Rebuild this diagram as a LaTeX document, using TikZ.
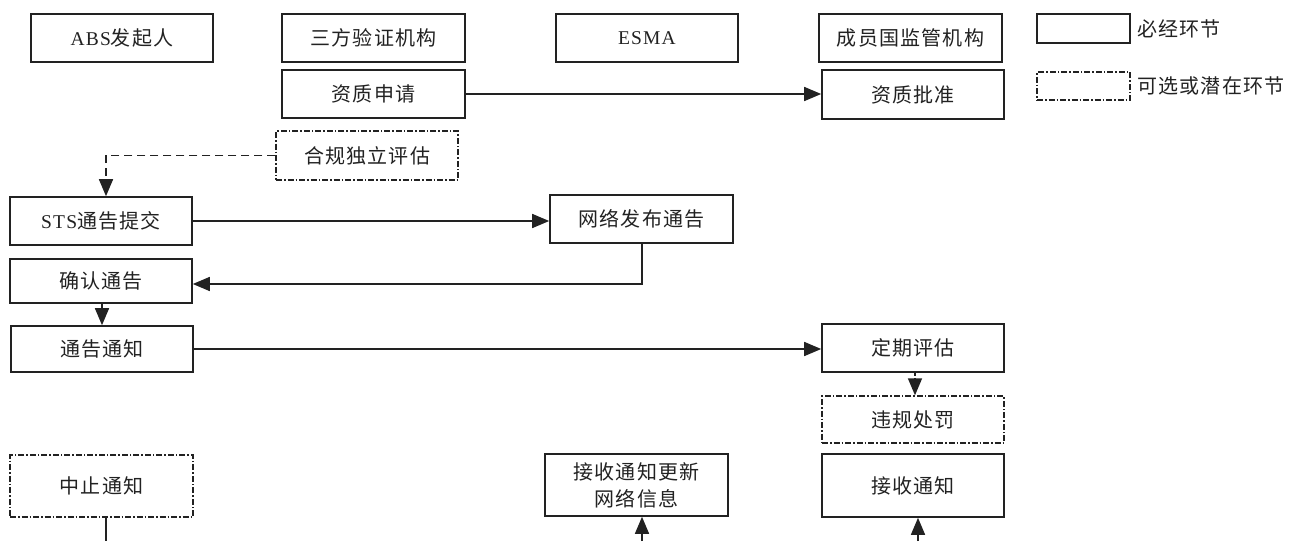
\documentclass[tikz,border=0pt]{standalone}
\usepackage{fontspec}
\setmainfont{Liberation Serif}[LetterSpace=6]
\newfontfamily\cjk{Noto Sans CJK SC}[LetterSpace=6]
\newcommand\lat[1]{{\fontsize{19.5}{22}\selectfont\rmfamily #1}}
\usetikzlibrary{arrows.meta}
\definecolor{ink}{HTML}{222222}
\tikzset{
  box/.style={draw=ink, line width=1.6pt, rectangle, inner sep=0pt, text=ink,
    font=\fontsize{20}{27}\selectfont\cjk, align=center},
  optbox/.style={box, line width=1.4pt, dash pattern=on 6pt off 2pt on 1.5pt off 2pt},
  conn/.style={draw=ink, line width=1.5pt, -{Triangle[length=17pt,width=14pt]}},
  dconn/.style={conn, dash pattern=on 8pt off 5pt},
  lbl/.style={anchor=west, inner sep=0pt, text=ink, font=\fontsize{20}{22}\selectfont\cjk},
}
\begin{document}
\begin{tikzpicture}[x=1pt, y=-1pt]
\fill[white] (0,0) rectangle (1293,541);
\useasboundingbox (0,0) rectangle (1293,541);
% header row
\node[box, minimum width=182pt, minimum height=48pt] (abs) at (122,38) {\lat{ABS}发起人};
\node[box, minimum width=183pt, minimum height=48pt] (tpv) at (373.5,38) {三方验证机构};
\node[box, minimum width=182pt, minimum height=48pt] (esma) at (647,38) {\lat{ESMA}};
\node[box, minimum width=183pt, minimum height=48pt] (nca) at (910.5,38) {成员国监管机构};
% legend
\node[box, minimum width=93pt, minimum height=29pt] (leg1) at (1083.5,28.5) {};
\node[optbox, minimum width=93pt, minimum height=28pt] (leg2) at (1083.5,86) {};
\node[lbl] (leg1t) at (1137,28.5) {必经环节};
\node[lbl] (leg2t) at (1137,86) {可选或潜在环节};
% process
\node[box, minimum width=183pt, minimum height=48pt] (apply) at (373.5,94) {资质申请};
\node[box, minimum width=182pt, minimum height=49pt] (approve) at (913,94.5) {资质批准};
\node[optbox, minimum width=182pt, minimum height=49pt] (indep) at (367,155.5) {合规独立评估};
\node[box, minimum width=182pt, minimum height=48pt] (sts) at (101,221) {\lat{STS}通告提交};
\node[box, minimum width=183pt, minimum height=48pt] (net) at (641.5,219) {网络发布通告};
\node[box, minimum width=182pt, minimum height=44pt] (confirm) at (101,281) {确认通告};
\node[box, minimum width=182pt, minimum height=46pt] (notify) at (102,349) {通告通知};
\node[box, minimum width=182pt, minimum height=48pt] (periodic) at (913,348) {定期评估};
\node[optbox, minimum width=182pt, minimum height=47pt] (penalty) at (913,419.5) {违规处罚};
\node[box, minimum width=182pt, minimum height=63pt] (recv) at (913,485.5) {接收通知};
\node[box, minimum width=183pt, minimum height=62pt] (recvnet) at (636.5,485) {接收通知更新\\网络信息};
\node[optbox, minimum width=183pt, minimum height=62pt] (suspend) at (101.5,486) {中止通知};
% free ends at the lower edge
\coordinate (sEnd) at (106,541);
\coordinate (rnStart) at (642,541);
\coordinate (rStart) at (918,541);
% connectors
\draw[conn] (apply.east) -- (apply.east -| approve.west);
\draw[dconn] (indep.west) -| ([xshift=5pt]sts.north);
\draw[conn] (sts.east) -- (sts.east -| net.west);
\draw[conn] ([xshift=0.5pt]net.south) |- ([yshift=-3pt]confirm.east);
\draw[conn] (confirm.south -| notify.north) -- (notify.north);
\draw[conn] (notify.east) -- (notify.east -| periodic.west);
\draw[conn, dash pattern=on 3pt off 2pt] ([xshift=2pt]periodic.south) -- ([xshift=2pt]penalty.north);
\draw[draw=ink, line width=1.5pt] (suspend.south -| sEnd) -- (sEnd);
\draw[conn] (rnStart) -- (rnStart |- recvnet.south);
\draw[conn] (rStart) -- (rStart |- recv.south);
\end{tikzpicture}
\end{document}
